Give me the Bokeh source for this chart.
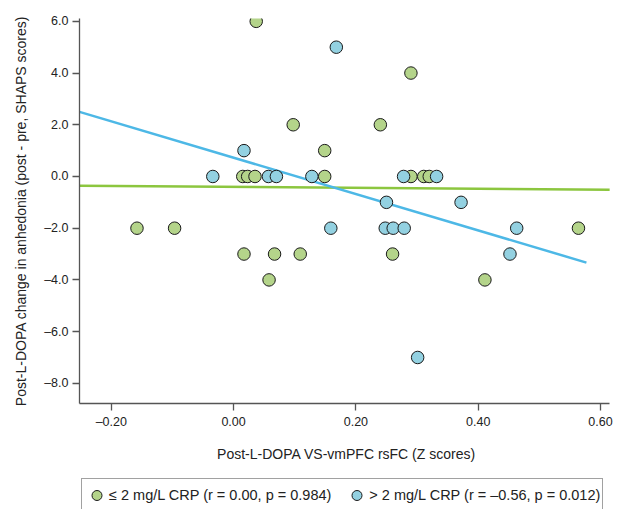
from bokeh.plotting import figure
from bokeh.layouts import column
from bokeh.models import ColumnDataSource, Legend, LegendItem, FixedTicker, Range1d
from bokeh.embed import file_html
from bokeh.resources import INLINE

# ---- data ----
low_x = [0.037, 0.0975, 0.240, 0.149, 0.290, 0.015, 0.023, 0.035, 0.149, 0.290, 0.311, 0.320,
         -0.158, -0.0965, 0.564, 0.017, 0.067, 0.109, 0.260, 0.058, 0.411]
low_y = [6, 2, 2, 1, 4, 0, 0, 0, 0, 0, 0, 0,
         -2, -2, -2, -3, -3, -3, -3, -4, -4]

high_x = [0.168, 0.017, -0.034, 0.057, 0.070, 0.128, 0.278, 0.332,
          0.250, 0.372, 0.159, 0.248, 0.261, 0.279, 0.463, 0.452, 0.301]
high_y = [5, 1, 0, 0, 0, 0, 0, 0,
          -1, -1, -2, -2, -2, -2, -2, -3, -7]

low_fit_x = [-0.252, 0.615]
low_fit_y = [-0.36, -0.51]
high_fit_x = [-0.252, 0.577]
high_fit_y = [2.50, -3.33]

x_ticks = [-0.2, 0.0, 0.2, 0.4, 0.6]
x_tick_labels = ["\u20130.20", "0.00", "0.20", "0.40", "0.60"]
y_ticks = [6, 4, 2, 0, -2, -4, -6, -8]
y_tick_labels = ["6.0", "4.0", "2.0", "0.0", "\u20132.0", "\u20134.0", "\u20136.0", "\u20138.0"]

low_label = "\u2264 2 mg/L CRP (r = 0.00, p = 0.984)"
high_label = "> 2 mg/L CRP (r = \u20130.56, p = 0.012)"
x_title = "Post-L-DOPA VS-vmPFC rsFC (Z scores)"
y_title = "Post-L-DOPA change in anhedonia (post - pre, SHAPS scores)"

GREEN_FILL = "#b4d48a"
BLUE_FILL = "#93d1e1"
GREEN_LINE = "#8cc63f"
BLUE_LINE = "#4db8e6"
FONT = "Liberation Sans"

low_src = ColumnDataSource(dict(x=low_x, y=low_y))
high_src = ColumnDataSource(dict(x=high_x, y=high_y))

# ---- main chart ----
p = figure(width=630, height=477, output_backend="svg", toolbar_location=None,
           x_range=Range1d(-0.252, 0.6213), y_range=Range1d(-8.78, 6.11),
           min_border_left=79, min_border_right=17, min_border_top=18, min_border_bottom=74)
p.outline_line_color = None
p.grid.visible = False
p.background_fill_color = "white"
p.border_fill_color = "white"

p.line(low_fit_x, low_fit_y, line_color=GREEN_LINE, line_width=2.5)
p.line(high_fit_x, high_fit_y, line_color=BLUE_LINE, line_width=2.5)

marker_style = dict(size=12.5, line_color="#1a1a1a", line_width=1)
p.scatter("x", "y", source=low_src, fill_color=GREEN_FILL, **marker_style)
p.scatter("x", "y", source=high_src, fill_color=BLUE_FILL, **marker_style)

for ax, ticks, labels in ((p.xaxis[0], x_ticks, x_tick_labels), (p.yaxis[0], y_ticks, y_tick_labels)):
    ax.ticker = FixedTicker(ticks=ticks)
    ax.major_label_overrides = {t: l for t, l in zip(ticks, labels)}
    ax.minor_tick_line_color = None
    ax.axis_line_color = "#555555"
    ax.axis_line_width = 1.3
    ax.major_tick_line_color = "#555555"
    ax.major_tick_line_width = 1.3
    ax.major_tick_out = 7
    ax.major_tick_in = 0
    ax.major_label_text_font = FONT
    ax.major_label_text_font_size = "12.5px"
    ax.major_label_text_color = "#222222"
    ax.major_label_standoff = 4
    ax.axis_label_text_font = FONT
    ax.axis_label_text_font_size = "14px"
    ax.axis_label_text_font_style = "normal"
    ax.axis_label_text_color = "#222222"

p.xaxis[0].bounds = (-0.252, 0.6147)
p.xaxis[0].axis_label = x_title
p.xaxis[0].axis_label_standoff = 14
p.yaxis[0].axis_label = y_title
p.yaxis[0].axis_label_standoff = 12

# ---- legend strip below the chart (same data, drawn off-range so only the legend shows) ----
p2 = figure(width=630, height=32, output_backend="svg", toolbar_location=None,
            x_range=Range1d(100, 101), y_range=Range1d(100, 101),
            x_axis_location=None, y_axis_location=None,
            min_border_left=79, min_border_right=17, min_border_top=0, min_border_bottom=0)
p2.outline_line_color = None
p2.grid.visible = False
p2.background_fill_color = "white"
p2.border_fill_color = "white"

r_low = p2.scatter("x", "y", source=low_src, fill_color=GREEN_FILL, **marker_style)
r_high = p2.scatter("x", "y", source=high_src, fill_color=BLUE_FILL, **marker_style)

legend = Legend(items=[LegendItem(label=low_label, renderers=[r_low]),
                       LegendItem(label=high_label, renderers=[r_high])],
                orientation="horizontal", location=(2, -2.5),
                glyph_width=25, glyph_height=28, padding=2, spacing=13,
                label_standoff=0, margin=0,
                label_text_font=FONT, label_text_font_size="14.5px", label_text_color="#222222",
                border_line_color="#444444", border_line_width=1,
                background_fill_color="white", background_fill_alpha=1)
p2.add_layout(legend, "center")

layout = column(p, p2, spacing=0)
open("out.html", "w").write(file_html(layout, INLINE))
